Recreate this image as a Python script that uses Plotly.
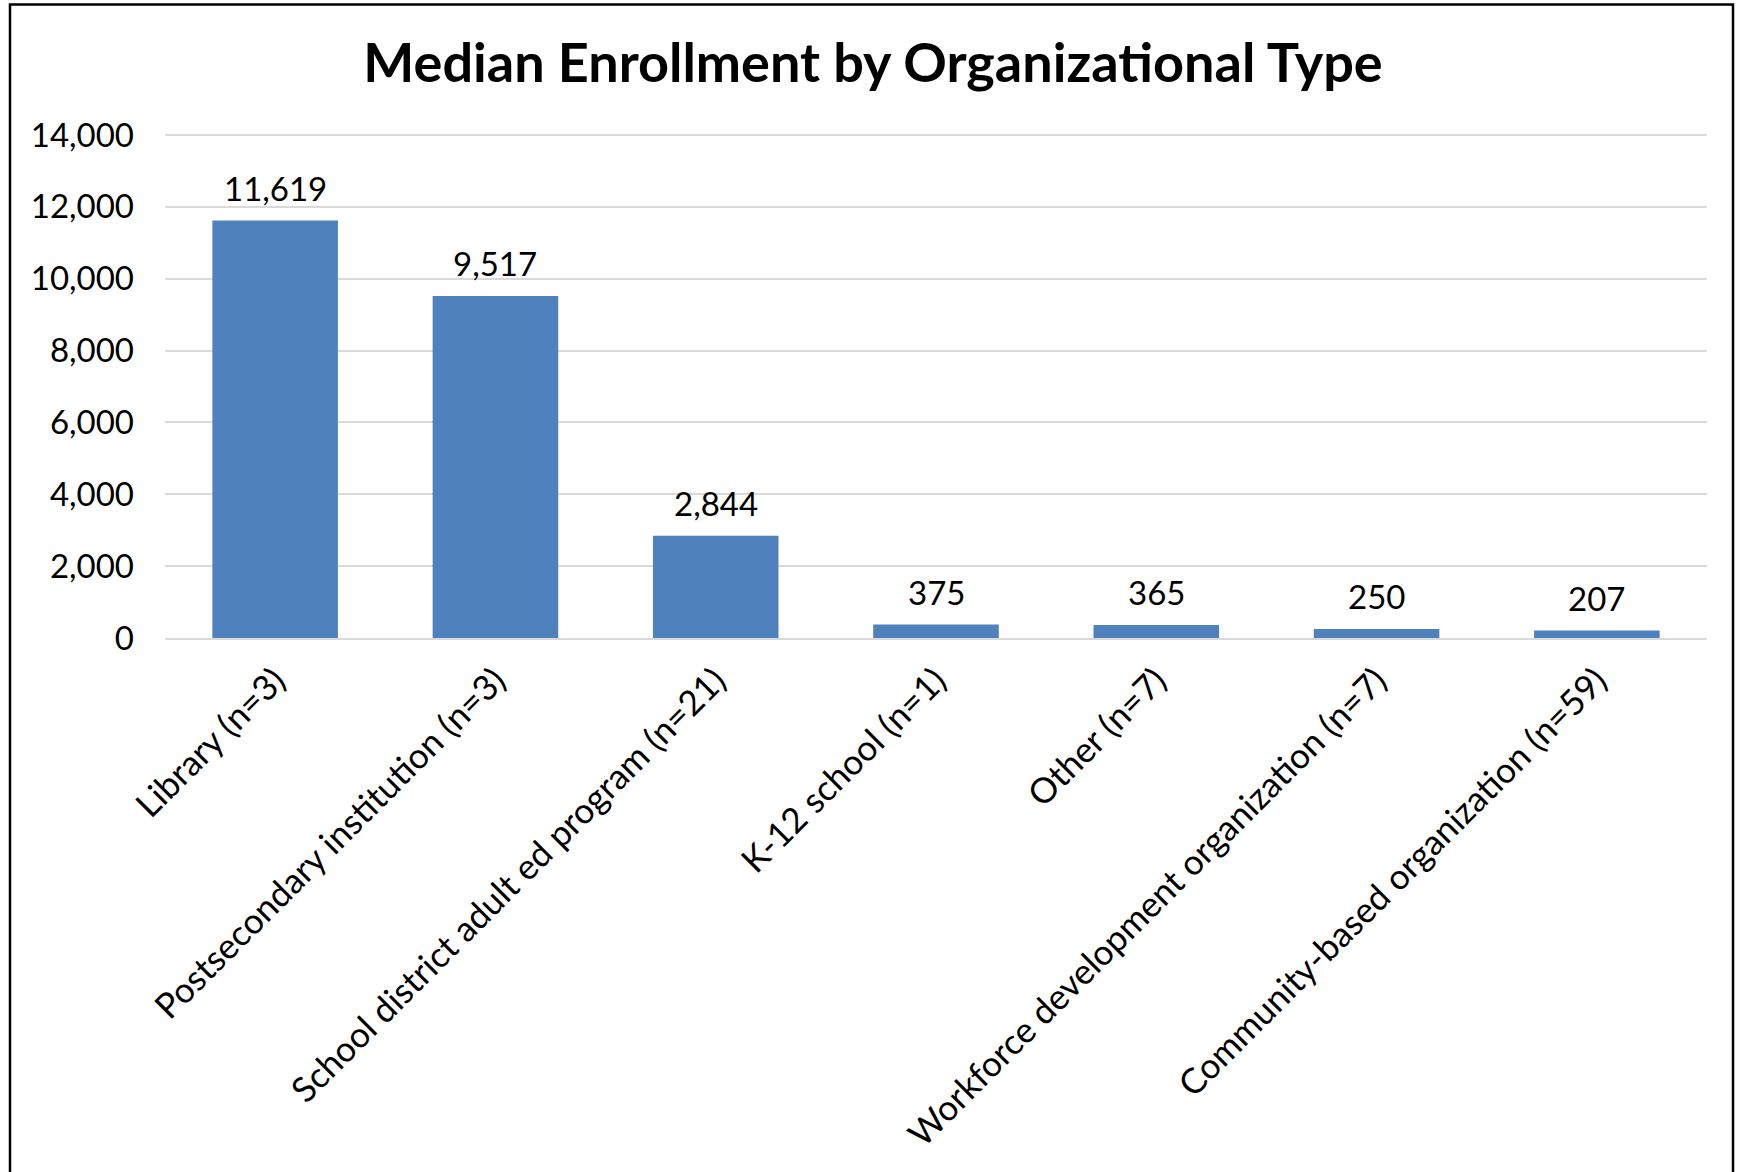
import plotly.graph_objects as go

categories = [
    "Library (n=3)",
    "Postsecondary institution (n=3)",
    "School district adult ed program (n=21)",
    "K-12 school (n=1)",
    "Other (n=7)",
    "Workforce development organization (n=7)",
    "Community-based organization (n=59)",
]
median_enrollment = [11619, 9517, 2844, 375, 365, 250, 207]
y_ticks = [0, 2000, 4000, 6000, 8000, 10000, 12000, 14000]
y_max = 14030

W, H = 1741, 1172
y0_px, y14k_px = 638.5, 135.5
px_per_unit = (y0_px - y14k_px) / 14000
L, R = 165, 34
T = y0_px - y_max * px_per_unit
B = H - y0_px
pw, ph = W - L - R, H - T - B

FONT = "Lato"

fig = go.Figure(
    go.Bar(
        x=categories,
        y=median_enrollment,
        marker=dict(color="#4F81BD", line=dict(width=0)),
        hoverinfo="x+y",
    )
)

# data labels above bars
for c, v in zip(categories, median_enrollment):
    fig.add_annotation(x=c, y=v, text=f"{v:,}", showarrow=False,
                       yanchor="middle", yshift=33,
                       font=dict(family=FONT, size=33, color="#000000"))

# outer chart border (left, top, right sides; bottom cut off)
bx0 = (10 - L) / pw
bx1 = (1733 - L) / pw
by1 = (H - B - 5) / ph
fig.add_shape(type="path", xref="paper", yref="paper",
              path=f"M {bx0},-3 L {bx0},{by1} L {bx1},{by1} L {bx1},-3",
              line=dict(color="#000000", width=2.5))

fig.update_layout(
    width=W, height=H,
    margin=dict(l=L, r=R, t=T, b=B, autoexpand=False),
    paper_bgcolor="white", plot_bgcolor="white",
    showlegend=False,
    bargap=0.43,
    font=dict(family=FONT, color="#000000"),
    title=dict(
        text="<b>Median Enrollment by Organizational Type</b>",
        x=873 / W, xanchor="center",
        y=1 - 63 / H, yanchor="middle",
        font=dict(family=FONT, size=54, color="#000000"),
    ),
    xaxis=dict(
        tickangle=-45,
        tickfont=dict(family=FONT, size=35, color="#000000"),
        showgrid=False,
        showline=True, linecolor="#D9D9D9", linewidth=2,
        ticks="", ticklabelstandoff=6,
    ),
    yaxis=dict(
        range=[0, y_max],
        tickvals=y_ticks,
        tickformat=",",
        tickfont=dict(family=FONT, size=33, color="#000000"),
        showgrid=True, gridcolor="#D9D9D9", gridwidth=2,
        zeroline=False, showline=False,
        ticks="", ticklabelstandoff=30,
    ),
)

fig.write_html("out.html", config={"displayModeBar": False},
               post_script="document.body.style.margin='0';")
